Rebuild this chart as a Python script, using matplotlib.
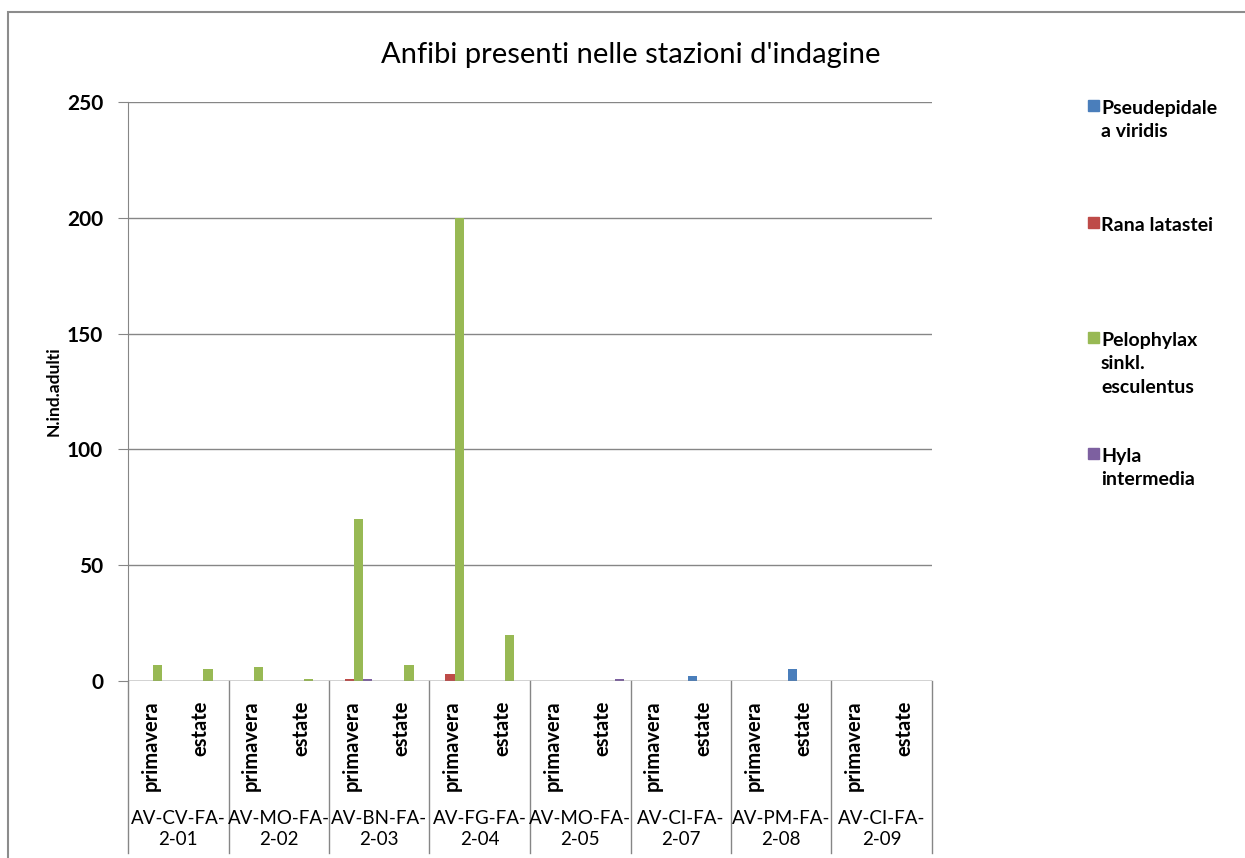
import numpy as np
import matplotlib.pyplot as plt
from matplotlib.patches import Rectangle
from matplotlib.lines import Line2D

plt.rcParams['font.family'] = ['Lato', 'DejaVu Sans']

stazioni = ["AV-CV-FA-\n2-01", "AV-MO-FA-\n2-02", "AV-BN-FA-\n2-03", "AV-FG-FA-\n2-04",
            "AV-MO-FA-\n2-05", "AV-CI-FA-\n2-07", "AV-PM-FA-\n2-08", "AV-CI-FA-\n2-09"]
stagioni = ["primavera", "estate"]

specie = ["Pseudepidale\na viridis", "Rana latastei", "Pelophylax\nsinkl.\nesculentus", "Hyla\nintermedia"]
colori = ["#4a7ebb", "#be4b48", "#98b954", "#7d60a0"]

# valori per stazione/stagione (primavera, estate alternati)
pseudepidalea = [0, 0, 0, 0, 0, 0, 0, 0, 0, 0, 0, 2, 0, 5, 0, 0]
rana_latastei = [0, 0, 0, 0, 1, 0, 3, 0, 0, 0, 0, 0, 0, 0, 0, 0]
pelophylax    = [7, 5, 6, 1, 70, 7, 200, 20, 0, 0, 0, 0, 0, 0, 0, 0]
hyla          = [0, 0, 0, 0, 1, 0, 0, 0, 0, 1, 0, 0, 0, 0, 0, 0]
serie = [pseudepidalea, rana_latastei, pelophylax, hyla]

fig = plt.figure(figsize=(12.45, 8.58), dpi=100)
W, H = 1245, 858
ax = fig.add_axes([128 / W, 1 - 681 / H, (932 - 128) / W, (681 - 102) / H])

# cornice esterna del grafico
fig.patches.append(Rectangle((8 / W, -0.1), 1.2, 1 - 12 / H + 0.1, transform=fig.transFigure,
                             fill=False, edgecolor="#8c8c8c", linewidth=1.5))

x = np.arange(16)
bw = 1 / 5.5
for i, (vals, c) in enumerate(zip(serie, colori)):
    ax.bar(x + (i - 1.5) * bw, vals, width=bw, color=c, zorder=3)

ax.set_xlim(-0.5, 15.5)
ax.set_ylim(0, 250)
ax.set_yticks(range(0, 251, 50))
ax.tick_params(axis='y', labelsize=15, length=7, color="#868686", pad=11)
for lab in ax.get_yticklabels():
    lab.set_fontweight('bold')
ax.set_xticks([])
ax.grid(axis='y', color="#868686", linewidth=1, zorder=0)
for s in ["top", "right", "bottom"]:
    ax.spines[s].set_visible(False)
ax.spines["left"].set_color("#868686")
ax.axhline(0, color="#868686", linewidth=1, zorder=4)

ax.set_ylabel("N.ind.adulti", fontsize=12.5, fontweight='bold', labelpad=4)

# etichette dell'asse x a due livelli
trans = ax.get_xaxis_transform()
for k in range(16):
    ax.text(k - 0.05, -0.033, stagioni[k % 2], rotation=90, ha='center', va='top',
            fontsize=14.5, fontweight='bold', transform=trans)
for j, st in enumerate(stazioni):
    ax.text(2 * j + 0.5, -0.222, st, ha='center', va='top', fontsize=13.5,
            linespacing=1.35, transform=trans)
for j in range(9):
    ax.add_line(Line2D([2 * j - 0.5, 2 * j - 0.5], [0, -0.297], transform=trans,
                       color="#868686", linewidth=1, clip_on=False))

ax.set_title("Anfibi presenti nelle stazioni d'indagine", fontsize=21, pad=28, x=0.625)

# legenda a destra
leg_y = [105, 222, 337, 453]
for nome, c, yy in zip(specie, colori, leg_y):
    fig.patches.append(Rectangle((1088 / W, 1 - (yy + 6) / H), 11 / W, 11 / H,
                                 transform=fig.transFigure, color=c))
    fig.text(1101 / W, 1 - (yy - 5) / H, nome, ha='left', va='top', fontsize=14,
             fontweight='bold', linespacing=1.45)

fig.savefig("out.png", dpi=100)
